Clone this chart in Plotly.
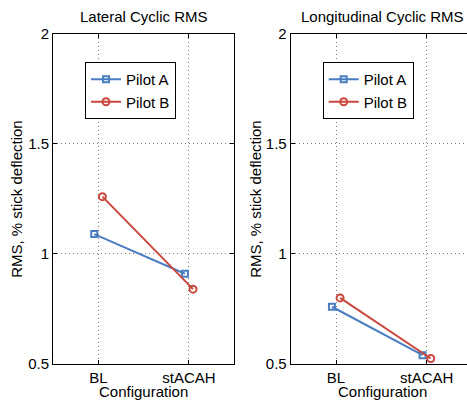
import plotly.graph_objects as go

categories = ["BL", "stACAH"]
lat_pilot_a = [1.09, 0.91]
lat_pilot_b = [1.26, 0.84]
lon_pilot_a = [0.76, 0.54]
lon_pilot_b = [0.80, 0.525]
y_ticks = [0.5, 1, 1.5, 2]
y_tick_labels = ["0.5", "1", "1.5", "2"]

BLUE = "#4a7ec0"
RED = "#c9473d"
FONT = "Liberation Sans, Arial, Helvetica, sans-serif"
W, H = 467, 402

pos = [i + 1 for i in range(len(categories))]
off = 0.045

fig = go.Figure()

def add_pair(a, b, xa, ya, legend):
    fig.add_trace(go.Scatter(
        x=[p - off for p in pos], y=a, name="Pilot A", mode="lines+markers",
        line=dict(color=BLUE, width=2),
        marker=dict(symbol="square-open", size=6, color=BLUE, line=dict(width=2)),
        xaxis=xa, yaxis=ya, legend=legend))
    fig.add_trace(go.Scatter(
        x=[p + off for p in pos], y=b, name="Pilot B", mode="lines+markers",
        line=dict(color=RED, width=2),
        marker=dict(symbol="circle-open", size=7, color=RED, line=dict(width=2)),
        xaxis=xa, yaxis=ya, legend=legend))

add_pair(lat_pilot_a, lat_pilot_b, "x", "y", "legend")
add_pair(lon_pilot_a, lon_pilot_b, "x2", "y2", "legend2")

ybot, ytop = 364.0, 33.7
ydom = [1 - ybot / H, 1 - ytop / H]
l1, r1 = 53.0, 234.3
l2 = 290.7
ppu = (r1 - l1) / 2.0
r2_range = 0.5 + (W - l2) / ppu

axis_common = dict(
    showline=True, linecolor="black", linewidth=1,
    ticks="inside", ticklen=4, tickcolor="black",
    showgrid=True, gridcolor="#777777", gridwidth=1, griddash="1px,3px",
    zeroline=False, automargin=False,
    tickfont=dict(family=FONT, size=15, color="black"),
)

fig.update_layout(
    template="none",
    width=W, height=H,
    margin=dict(l=0, r=0, t=0, b=0, autoexpand=False),
    paper_bgcolor="white", plot_bgcolor="white",
    font=dict(family=FONT, size=15, color="black"),
    hovermode=False,
    xaxis=dict(domain=[l1 / W, r1 / W], range=[0.5, 2.5], tickvals=pos,
               ticktext=categories, mirror="ticks", anchor="y", **axis_common),
    yaxis=dict(domain=ydom, range=[0.5, 2], tickvals=y_ticks,
               ticktext=y_tick_labels, mirror="ticks", anchor="x", **axis_common),
    xaxis2=dict(domain=[l2 / W, 1.0], range=[0.5, r2_range], tickvals=pos,
                ticktext=categories, mirror="ticks", anchor="y2", **axis_common),
    yaxis2=dict(domain=ydom, range=[0.5, 2], tickvals=y_ticks,
                ticktext=y_tick_labels, mirror=False, anchor="x2", **axis_common),
    legend=dict(x=85 / W, y=1 - 62 / H, xanchor="left", yanchor="top",
                bgcolor="white", bordercolor="black", borderwidth=1,
                font=dict(family=FONT, size=15, color="black"),
                tracegroupgap=0, itemwidth=30),
    legend2=dict(x=322.7 / W, y=1 - 62 / H, xanchor="left", yanchor="top",
                 bgcolor="white", bordercolor="black", borderwidth=1,
                 font=dict(family=FONT, size=15, color="black"),
                 tracegroupgap=0, itemwidth=30),
)

def ann(text, x, y, angle=0, size=15):
    fig.add_annotation(text=text, x=x / W, y=1 - y / H, xref="paper", yref="paper",
                       showarrow=False, textangle=angle, xanchor="center",
                       yanchor="middle", font=dict(family=FONT, size=size, color="black"))

ann("Lateral Cyclic RMS", (l1 + r1) / 2, 16)
ann("Longitudinal Cyclic RMS", 382, 16)
ann("RMS, % stick deflection", 17, (ybot + ytop) / 2, angle=-90)
ann("RMS, % stick deflection", 256, (ybot + ytop) / 2, angle=-90)
ann("Configuration", (l1 + r1) / 2, 391.5)
ann("Configuration", 382, 391.5)

fig.write_html("out.html")
